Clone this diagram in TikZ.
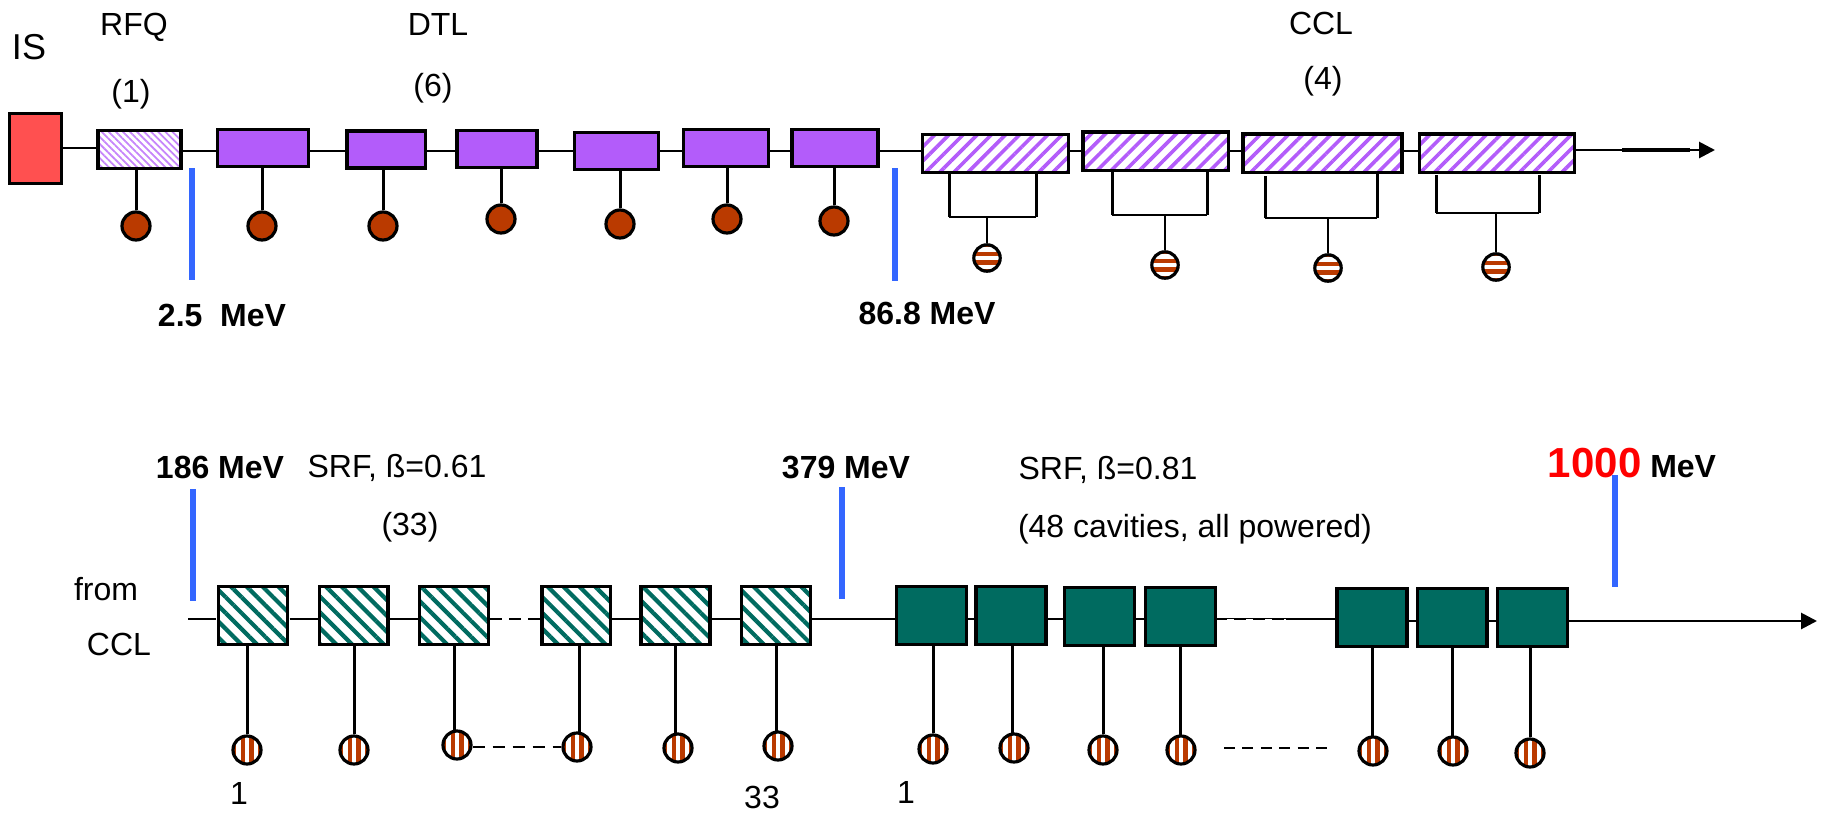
\documentclass[tikz,border=0pt]{standalone}
\usepackage{fontspec}
\setmainfont{Liberation Sans}
\usetikzlibrary{arrows.meta,positioning,patterns.meta}
\definecolor{sourceRed}{RGB}{255,80,80}
\definecolor{dtlPurple}{RGB}{179,92,250}
\definecolor{srfGreen}{RGB}{0,107,96}
\definecolor{rfBrown}{RGB}{186,58,0}
\definecolor{tickBlue}{RGB}{51,102,255}
\tikzset{
  beamline/.style={line width=1.4pt},
  feedline/.style={line width=1.5pt},
  bracketline/.style={line width=1pt},
  energytick/.style={line width=2.6pt, tickBlue},
  cellbox/.style={draw, line width=1.7pt, inner sep=0pt},
  isbox/.style={cellbox, fill=sourceRed},
  rfqbox/.style={cellbox, minimum height=18.8pt, pattern={Lines[angle=-45, distance=2.5pt, line width=.9pt]}, pattern color=dtlPurple!75},
  dtlbox/.style={cellbox, fill=dtlPurple, minimum height=18.6pt},
  cclbox/.style={cellbox, minimum width=72.95pt, minimum height=19.2pt, pattern={Lines[angle=45, distance=5pt, line width=1.8pt]}, pattern color=dtlPurple},
  srfbox/.style={cellbox, minimum width=34.45pt, minimum height=28.8pt, pattern={Lines[angle=-45, distance=5.6pt, line width=2.1pt]}, pattern color=srfGreen},
  hebox/.style={cellbox, fill=srfGreen, minimum width=34.95pt, minimum height=28.8pt},
  klystron/.style={circle, draw, line width=1.6pt, fill=rfBrown, inner sep=0pt, minimum size=14pt},
  vstripes/.style={circle, draw, line width=1.6pt, fill=white, inner sep=0pt, minimum size=14pt, path picture={
    \draw[rfBrown, line width=2.2pt] (-6.4pt,-8pt) -- (-6.4pt,8pt) (-2.15pt,-8pt) -- (-2.15pt,8pt) (2.15pt,-8pt) -- (2.15pt,8pt) (6.4pt,-8pt) -- (6.4pt,8pt);}},
  hstripes/.style={circle, draw, line width=1.6pt, fill=white, inner sep=0pt, minimum size=13.2pt, path picture={
    \draw[rfBrown, line width=2.2pt] (-8pt,-6.4pt) -- (8pt,-6.4pt) (-8pt,-2.15pt) -- (8pt,-2.15pt) (-8pt,2.15pt) -- (8pt,2.15pt) (-8pt,6.4pt) -- (8pt,6.4pt);}},
  plain/.style={font=\fontsize{16}{19}\selectfont},
  strong/.style={font=\fontsize{16}{19}\selectfont\bfseries}
}
\begin{document}
\begin{tikzpicture}[x=0.5pt, y=-0.5pt, >={Triangle[length=8pt, width=8pt]}]
  \useasboundingbox (0,0) rectangle (1826,815);

  % first row
  \node[isbox, minimum width=25.95pt, minimum height=34.8pt] (is) at (35.5,148.5) {};
  \node[rfqbox, minimum width=41.45pt, right=17pt of is, yshift=-.5pt] (rfq) {};
  \node[dtlbox, minimum width=45.45pt, right=17pt of rfq, yshift=.75pt] (dtla) {};
  \node[dtlbox, minimum width=39.45pt, right=17.5pt of dtla, yshift=-.75pt] (dtlb) {};
  \node[dtlbox, minimum width=39.95pt, right=14pt of dtlb, yshift=.25pt] (dtlc) {};
  \node[dtlbox, minimum width=41.95pt, right=17pt of dtlc, yshift=-1pt] (dtld) {};
  \node[dtlbox, minimum width=42.45pt, right=11pt of dtld, yshift=1.5pt] (dtle) {};
  \node[dtlbox, minimum width=42.95pt, right=10pt of dtle] (dtlf) {};
  \node[cclbox, right=20.5pt of dtlf, yshift=-2.75pt] (ccla) {};
  \node[cclbox, right=5.5pt of ccla, yshift=1.25pt] (cclb) {};
  \node[cclbox, minimum width=79.45pt, right=5.5pt of cclb, yshift=-1pt] (cclc) {};
  \node[cclbox, minimum width=77.45pt, right=7pt of cclc] (ccld) {};

  \coordinate (beamup) at (0,151);
  \coordinate (beamupend) at (1715,150);
  \coordinate (thickstart) at (1622,150);
  \coordinate (thickend) at (1690,150);
  \draw[beamline] (is.east |- 0,148) -- (rfq.west |- 0,148);
  \draw[beamline] (rfq.east |- beamup) -- (dtla.west |- beamup);
  \draw[beamline] (dtla.east |- beamup) -- (dtlb.west |- beamup);
  \draw[beamline] (dtlb.east |- beamup) -- (dtlc.west |- beamup);
  \draw[beamline] (dtlc.east |- beamup) -- (dtld.west |- beamup);
  \draw[beamline] (dtld.east |- beamup) -- (dtle.west |- beamup);
  \draw[beamline] (dtle.east |- beamup) -- (dtlf.west |- beamup);
  \draw[beamline] (dtlf.east |- beamup) -- (ccla.west |- beamup);
  \draw[beamline] (ccla.east |- beamup) -- (cclb.west |- beamup);
  \draw[beamline] (cclb.east |- beamup) -- (cclc.west |- beamup);
  \draw[beamline] (cclc.east |- beamup) -- (ccld.west |- beamup);
  \draw[beamline, ->] (ccld.east |- beamupend) -- (beamupend);
  \draw[line width=2.4pt] (thickstart) -- (thickend);

  \node[klystron] (krfq) at (136,226) {};
  \node[klystron] (ka) at (262,226) {};
  \node[klystron] (kb) at (383,226) {};
  \node[klystron] (kc) at (501,219) {};
  \node[klystron] (kd) at (620,224) {};
  \node[klystron] (ke) at (727,219) {};
  \node[klystron] (kf) at (834,221) {};
  \draw[feedline] (rfq.south -| krfq) -- (krfq);
  \draw[feedline] (dtla.south -| ka) -- (ka);
  \draw[feedline] (dtlb.south -| kb) -- (kb);
  \draw[feedline] (dtlc.south -| kc) -- (kc);
  \draw[feedline] (dtld.south -| kd) -- (kd);
  \draw[feedline] (dtle.south -| ke) -- (ke);
  \draw[feedline] (dtlf.south -| kf) -- (kf);

  \node[hstripes] (ksa) at (987,258) {};
  \node[hstripes] (ksb) at (1165,265) {};
  \node[hstripes] (ksc) at (1328,268) {};
  \node[hstripes] (ksd) at (1496,267) {};
  \draw[bracketline] (ksa) -- (ksa |- 0,217);
  \draw[bracketline] (949,217) -- (1036,217);
  \draw[feedline] (949,174) -- (949,217) (1036,174) -- (1036,217);
  \draw[bracketline] (ksb) -- (ksb |- 0,215);
  \draw[bracketline] (1112,215) -- (1207,215);
  \draw[feedline] (1112,172) -- (1112,215) (1207,172) -- (1207,215);
  \draw[bracketline] (ksc) -- (ksc |- 0,218);
  \draw[bracketline] (1265,218) -- (1377,218);
  \draw[feedline] (1265,176) -- (1265,218) (1377,174) -- (1377,218);
  \draw[bracketline] (ksd) -- (ksd |- 0,213);
  \draw[bracketline] (1436,213) -- (1539,213);
  \draw[feedline] (1436,175) -- (1436,213) (1539,175) -- (1539,213);

  \coordinate (ticka) at (192,168);
  \coordinate (tickb) at (895,168);
  \draw[energytick] (ticka) -- ++(0,112);
  \draw[energytick] (tickb) -- ++(0,113);

  \node[font=\fontsize{18}{22}\selectfont] (islabel) at (29,47) {IS};
  \node[plain] (rfqlabel) at (134,27) {RFQ};
  \node[plain] (rfqcount) at (131,94) {(1)};
  \node[plain] (dtllabel) at (438,24) {DTL};
  \node[plain] (dtlcount) at (433,88) {(6)};
  \node[plain] (ccllabel) at (1321,23) {CCL};
  \node[plain] (cclcount) at (1323,81) {(4)};
  \node[strong] (ea) at (222,315) {2.5\ \ MeV};
  \node[strong] (eb) at (927,313) {86.8 MeV};

  % second row
  \node[srfbox] (sa) at (253,615.5) {};
  \node[srfbox, right=14pt of sa] (sb) {};
  \node[srfbox, right=14pt of sb] (sc) {};
  \node[srfbox, right=25pt of sc] (sd) {};
  \node[srfbox, right=13.5pt of sd] (se) {};
  \node[srfbox, right=14pt of se] (sf) {};
  \node[hebox, right=41.5pt of sf] (ta) {};
  \node[hebox, right=3pt of ta] (tb) {};
  \node[hebox, right=7.5pt of tb, yshift=-.5pt] (tc) {};
  \node[hebox, right=4pt of tc] (td) {};
  \node[hebox, right=59pt of td, yshift=-.5pt] (te) {};
  \node[hebox, right=3.5pt of te] (tf) {};
  \node[hebox, right=3.5pt of tf] (tg) {};

  \coordinate (beamlow) at (0,619);
  \coordinate (beamlowstart) at (188,619);
  \coordinate (beamlowend) at (1817,621);
  \coordinate (notchstart) at (1227,620.2);
  \coordinate (notchend) at (1286,620.2);
  \draw[beamline] (beamlowstart) -- (sa.west |- beamlow);
  \draw[beamline] (sa.east |- beamlow) -- (sb.west |- beamlow);
  \draw[beamline] (sb.east |- beamlow) -- (sc.west |- beamlow);
  \draw[beamline, dash pattern=on 6pt off 3.5pt] (sc.east |- beamlow) -- (sd.west |- beamlow);
  \draw[beamline] (sd.east |- beamlow) -- (se.west |- beamlow);
  \draw[beamline] (se.east |- beamlow) -- (sf.west |- beamlow);
  \draw[beamline] (sf.east |- beamlow) -- (ta.west |- beamlow);
  \draw[beamline] (ta.east |- beamlow) -- (tb.west |- beamlow);
  \draw[beamline] (tb.east |- beamlow) -- (tc.west |- beamlow);
  \draw[beamline] (tc.east |- beamlow) -- (td.west |- beamlow);
  \draw[beamline] (td.east |- beamlow) -- (te.west |- beamlow);
  \draw[white, line width=.9pt, dash pattern=on 3.5pt off 6pt] (notchstart) -- (notchend);
  \draw[beamline] (te.east |- beamlowend) -- (tf.west |- beamlowend);
  \draw[beamline] (tf.east |- beamlowend) -- (tg.west |- beamlowend);
  \draw[beamline, ->] (tg.east |- beamlowend) -- (beamlowend);

  \node[vstripes] (va) at (247,750) {};
  \node[vstripes] (vb) at (354,750) {};
  \node[vstripes] (vc) at (457,745) {};
  \node[vstripes] (vd) at (577,747) {};
  \node[vstripes] (ve) at (678,748) {};
  \node[vstripes] (vf) at (778,746) {};
  \node[vstripes] (wa) at (933,749) {};
  \node[vstripes] (wb) at (1014,748) {};
  \node[vstripes] (wc) at (1103,750) {};
  \node[vstripes] (wd) at (1181,750) {};
  \node[vstripes] (we) at (1373,751) {};
  \node[vstripes] (wf) at (1453,751) {};
  \node[vstripes] (wg) at (1530,753) {};
  \draw[feedline] (sa.south -| va) -- (va);
  \draw[feedline] (sb.south -| vb) -- (vb);
  \draw[feedline] (sc.south -| 454,0) -- (454,730);
  \draw[feedline] (sd.south -| 579,0) -- (579,733);
  \draw[feedline] (se.south -| 675,0) -- (675,734);
  \draw[feedline] (sf.south -| 776,0) -- (776,732);
  \draw[feedline] (ta.south -| wa) -- (wa);
  \draw[feedline] (tb.south -| 1012,0) -- (1012,733);
  \draw[feedline] (tc.south -| wc) -- (wc);
  \draw[feedline] (td.south -| 1180,0) -- (1180,735);
  \draw[feedline] (te.south -| 1372,0) -- (1372,736);
  \draw[feedline] (tf.south -| 1452,0) -- (1452,736);
  \draw[feedline] (tg.south -| wg) -- (wg);

  \coordinate (dashstart) at (1224,748);
  \coordinate (dashend) at (1328,748);
  \draw[beamline, dash pattern=on 6pt off 4pt] (vc.east |- vd) -- (vd);
  \draw[beamline, dash pattern=on 5.5pt off 3.7pt] (dashstart) -- (dashend);

  \coordinate (tickc) at (193,489);
  \coordinate (tickd) at (842,487);
  \coordinate (ticke) at (1615,475);
  \draw[energytick] (tickc) -- ++(0,112);
  \draw[energytick] (tickd) -- ++(0,112);
  \draw[energytick] (ticke) -- ++(0,112);

  \node[strong] (ec) at (220,467) {186 MeV};
  \node[plain] (srfa) at (397,468) {SRF, ß=0.61};
  \node[plain] (srfacount) at (410,527) {(33)};
  \node[strong] (ed) at (846,467) {379 MeV};
  \node[plain] (srfb) at (1108,470) {SRF, ß=0.81};
  \node[plain] (srfbcount) at (1195,529) {(48 cavities, all powered)};
  \node[strong] (ee) at (1632,463) {{\fontsize{21}{25}\selectfont\color{red}1000} MeV};
  \node[plain] (froma) at (106,589) {from};
  \node[plain] (fromb) at (119,644) {CCL};
  \node[plain] (numa) at (239,793) {1};
  \node[plain] (numb) at (762,797) {33};
  \node[plain] (numc) at (906,792) {1};
\end{tikzpicture}
\end{document}
